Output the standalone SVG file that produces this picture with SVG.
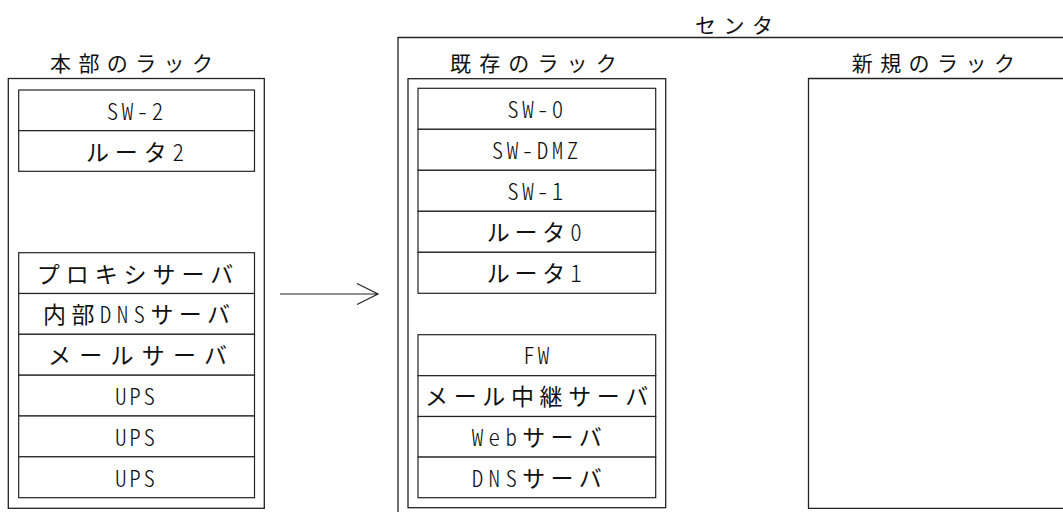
<svg xmlns="http://www.w3.org/2000/svg" width="1063" height="512" viewBox="0 0 1063 512">
<style>
.box{fill:none;stroke:#222;stroke-width:1.3}
.row{fill:#fff;stroke:#222;stroke-width:1.2}
.t{font-family:"Noto Sans CJK JP","Noto Sans",sans-serif;font-size:23px;fill:#111}
.h{font-family:"Noto Sans CJK JP","Noto Sans",sans-serif;font-size:21px;fill:#111}
.l{font-family:"Noto Sans CJK JP",sans-serif;font-feature-settings:"hwid" 1;font-weight:300}
.c{fill:none;stroke:#222;stroke-width:1.2}
</style>
<rect width="1063" height="512" fill="#fff"/>

<g id="center">
<path class="box" d="M1070 37.5H398V520"/>
<text class="h" x="695" y="32.5" textLength="78" lengthAdjust="spacing">センタ</text>
</g>

<g id="honbu-rack">
<rect class="box" x="8.3" y="78.5" width="256" height="429.8"/>
<text class="h" x="50" y="70.5" textLength="163" lengthAdjust="spacing">本部のラック</text>
</g>
<g id="sw2"><rect class="row" x="18.7" y="90" width="235.8" height="40.7"/><text class="t" x="106.7" y="120" textLength="56.6" lengthAdjust="spacing"><tspan class="l">SW-2</tspan></text></g>
<g id="router2"><rect class="row" x="18.7" y="130.7" width="235.8" height="40.6"/><text class="t" x="86" y="160.7" textLength="98" lengthAdjust="spacing">ルータ<tspan class="l">2</tspan></text></g>
<g id="proxy"><rect class="row" x="18.7" y="252.7" width="235.8" height="40.8"/><text class="t" x="36.7" y="282.5" textLength="196.6" lengthAdjust="spacing">プロキシサーバ</text></g>
<g id="internal-dns"><rect class="row" x="18.7" y="293.5" width="235.8" height="40.8"/><text class="t" x="43" y="323.3" textLength="187" lengthAdjust="spacing">内部<tspan class="l">DNS</tspan>サーバ</text></g>
<g id="mail"><rect class="row" x="18.7" y="334.3" width="235.8" height="40.9"/><text class="t" x="48" y="364.1" textLength="179" lengthAdjust="spacing">メールサーバ</text></g>
<g id="ups1"><rect class="row" x="18.7" y="375.2" width="235.8" height="40.8"/><text class="t" x="115" y="405" textLength="40" lengthAdjust="spacing"><tspan class="l">UPS</tspan></text></g>
<g id="ups2"><rect class="row" x="18.7" y="416" width="235.8" height="40.8"/><text class="t" x="115" y="445.8" textLength="40" lengthAdjust="spacing"><tspan class="l">UPS</tspan></text></g>
<g id="ups3"><rect class="row" x="18.7" y="456.8" width="235.8" height="40.9"/><text class="t" x="115" y="486.6" textLength="40" lengthAdjust="spacing"><tspan class="l">UPS</tspan></text></g>

<g id="existing-rack">
<rect class="box" x="408" y="78.7" width="257.7" height="429"/>
<text class="h" x="450" y="70.5" textLength="166.7" lengthAdjust="spacing">既存のラック</text>
</g>
<g id="sw0"><rect class="row" x="418" y="88.3" width="237.7" height="41"/><text class="t" x="507.3" y="118" textLength="56" lengthAdjust="spacing"><tspan class="l">SW-0</tspan></text></g>
<g id="swdmz"><rect class="row" x="418" y="129.3" width="237.7" height="41"/><text class="t" x="491.7" y="159" textLength="86.6" lengthAdjust="spacing"><tspan class="l">SW-DMZ</tspan></text></g>
<g id="sw1"><rect class="row" x="418" y="170.3" width="237.7" height="41"/><text class="t" x="507.3" y="200" textLength="56" lengthAdjust="spacing"><tspan class="l">SW-1</tspan></text></g>
<g id="router0"><rect class="row" x="418" y="211.3" width="237.7" height="41"/><text class="t" x="486.7" y="241" textLength="95" lengthAdjust="spacing">ルータ<tspan class="l">0</tspan></text></g>
<g id="router1"><rect class="row" x="418" y="252.3" width="237.7" height="41"/><text class="t" x="486.7" y="282" textLength="95" lengthAdjust="spacing">ルータ<tspan class="l">1</tspan></text></g>
<g id="fw"><rect class="row" x="418" y="334.7" width="237.7" height="41"/><text class="t" x="523.3" y="364.4" textLength="26" lengthAdjust="spacing"><tspan class="l">FW</tspan></text></g>
<g id="mail-relay"><rect class="row" x="418" y="375.7" width="237.7" height="40.8"/><text class="t" x="425" y="405.4" textLength="223.3" lengthAdjust="spacing">メール中継サーバ</text></g>
<g id="web"><rect class="row" x="418" y="416.5" width="237.7" height="40.6"/><text class="t" x="471.7" y="446.2" textLength="130" lengthAdjust="spacing"><tspan class="l">Web</tspan>サーバ</text></g>
<g id="dns"><rect class="row" x="418" y="457.1" width="237.7" height="40.6"/><text class="t" x="471.7" y="486.8" textLength="130" lengthAdjust="spacing"><tspan class="l">DNS</tspan>サーバ</text></g>

<g id="new-rack">
<path class="box" d="M1070 78.5H808.5V508.3H1070"/>
<text class="h" x="851.7" y="70.5" textLength="163.3" lengthAdjust="spacing">新規のラック</text>
</g>

<g id="connectors">
<path class="c" d="M280 294H378M357 283.5L378 294L357 304.5"/>
</g>
</svg>
